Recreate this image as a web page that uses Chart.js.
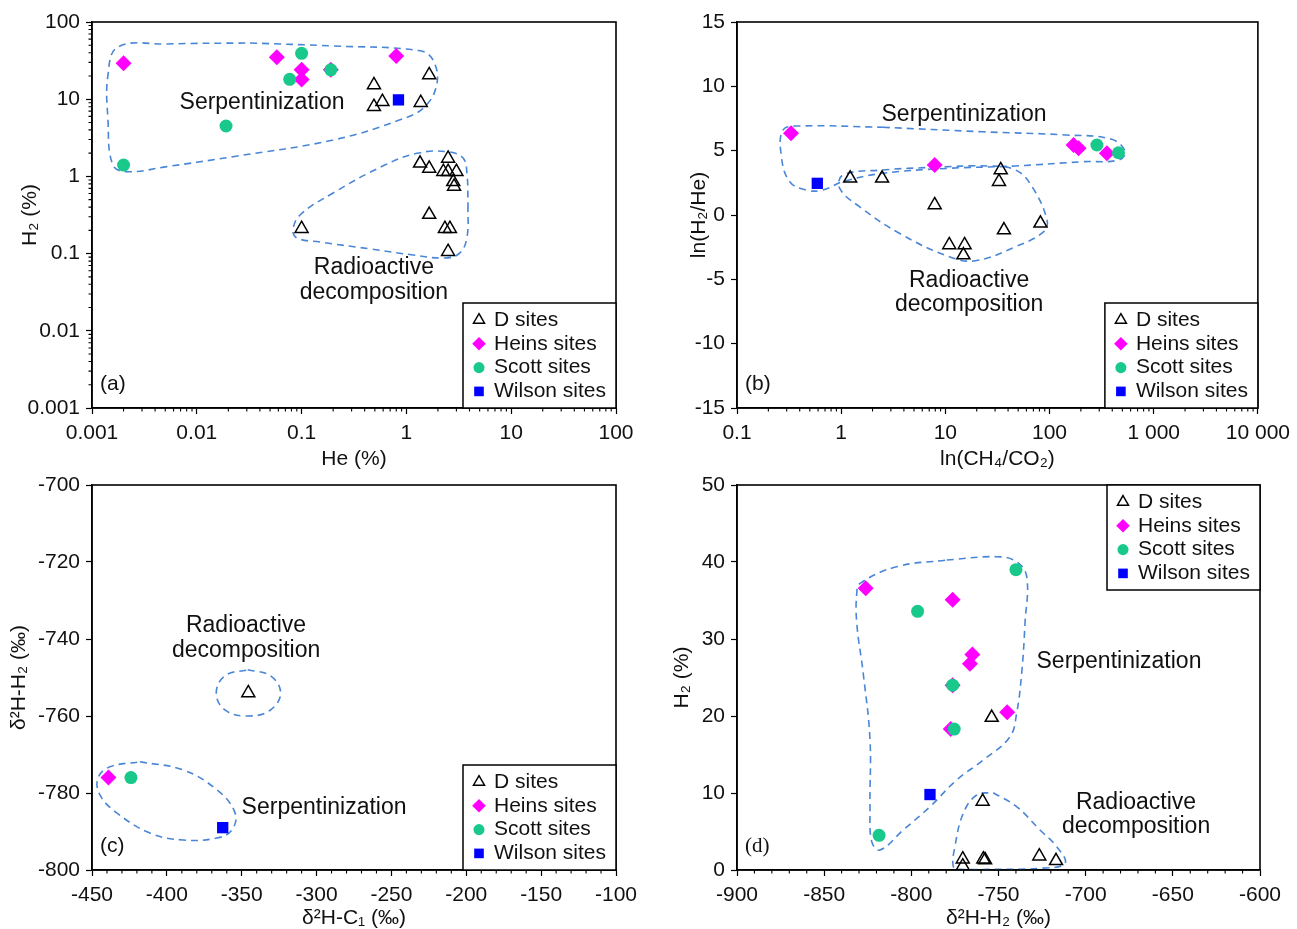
<!DOCTYPE html>
<html>
<head>
<meta charset="utf-8">
<title>H2 origin discrimination plots</title>
<script src="https://cdn.jsdelivr.net/npm/chart.js@4.4.1/dist/chart.umd.min.js"></script>
<style>
  html, body { margin: 0; padding: 0; background: #fff; overflow: hidden; }
  #wrap { position: relative; width: 1297px; height: 929px; }
  canvas { position: absolute; }
</style>
</head>
<body>
<div id="wrap">
  <canvas id="chartA" width="648" height="470" style="left:0;top:0"></canvas>
  <canvas id="chartB" width="649" height="470" style="left:648px;top:0"></canvas>
  <canvas id="chartC" width="648" height="464" style="left:0;top:465px"></canvas>
  <canvas id="chartD" width="649" height="464" style="left:648px;top:465px"></canvas>
</div>
<script>
// ---------- panel (a): He (%) vs H2 (%) ----------
const aXTicks = [0.001, 0.01, 0.1, 1, 10, 100];
const aXLabels = ["0.001", "0.01", "0.1", "1", "10", "100"];
const aYTicks = [0.001, 0.01, 0.1, 1, 10, 100];
const aYLabels = ["0.001", "0.01", "0.1", "1", "10", "100"];

const aD_He = [0.49, 0.59, 0.49, 1.65, 1.37, 1.35, 1.65, 2.5, 2.25, 2.5, 3.0, 2.8, 2.85, 1.65, 2.33, 2.6, 2.5, 0.1];
const aD_H2 = [15.3, 9.3, 8.0, 20.6, 9.0, 1.48, 1.27, 1.71, 1.15, 1.15, 1.15, 0.85, 0.74, 0.32, 0.21, 0.21, 0.106, 0.21];
const aHeins_He = [0.002, 0.058, 0.1, 0.1, 0.19, 0.8];
const aHeins_H2 = [29.2, 35, 24, 18, 24, 36.3];
const aScott_He = [0.1, 0.077, 0.19, 0.019, 0.002];
const aScott_H2 = [39.3, 18.1, 24, 4.5, 1.4];
const aWilson_He = [0.84];
const aWilson_H2 = [9.8];

// enclosures (dashed)
const aSerp_He = [0.0322, 0.2, 1.35, 1.79, 1.96, 1.5, 0.87, 0.2, 0.0221, 0.0052, 0.00216, 0.00158, 0.00142, 0.00142, 0.00177, 0.0052, 0.0322];
const aSerp_H2 = [53.5, 48.9, 42.5, 32.2, 16.2, 8.0, 5.4, 2.96, 1.8, 1.34, 1.15, 1.41, 5.4, 20.6, 47.5, 51.9, 53.5];
const aRad_He = [3.87, 3.79, 3.24, 2.34, 1.16, 0.45, 0.15, 0.0904, 0.0828, 0.0966, 0.2, 0.6, 1.26, 2.44, 3.47, 3.79, 3.87];
const aRad_H2 = [0.426, 0.164, 0.102, 0.0877, 0.096, 0.115, 0.141, 0.159, 0.202, 0.316, 0.61, 1.37, 1.99, 2.09, 1.73, 1.04, 0.426];

// ---------- panel (b): CH4/CO2 vs ln(H2/He) ----------
const bXTicks = [0.1, 1, 10, 100, 1000, 10000];
const bXLabels = ["0.1", "1", "10", "100", "1 000", "10 000"];
const bYTicks = [-15, -10, -5, 0, 5, 10, 15];
const bYLabels = ["-15", "-10", "-5", "0", "5", "10", "15"];

const bD_X = [1.22, 2.47, 7.9, 34, 32.7, 36.5, 81.8, 10.9, 15.3, 14.9];
const bD_Y = [2.85, 2.85, 0.78, 3.5, 2.59, -1.17, -0.65, -2.33, -2.33, -3.11];
const bHeins_X = [0.33, 7.9, 170, 190, 355];
const bHeins_Y = [6.35, 3.89, 5.44, 5.18, 4.8];
const bScott_X = [285, 459];
const bScott_Y = [5.44, 4.84];
const bWilson_X = [0.59];
const bWilson_Y = [2.46];

const bSerp_X = [2.5, 22.6, 142, 396, 532, 459, 205, 47.2, 10.9, 2.5, 1.04, 0.668, 0.463, 0.321, 0.267, 0.277, 0.4, 2.5];
const bSerp_Y = [6.82, 6.47, 6.22, 5.88, 4.92, 4.27, 4.14, 3.81, 3.63, 3.24, 2.59, 1.94, 1.94, 2.59, 4.53, 6.61, 6.92, 6.82];
const bRad_X = [7.53, 26.2, 47.2, 68, 94.6, 88, 47.2, 19.6, 10.9, 3.62, 1.5, 0.966, 1.04, 2.5, 7.53];
const bRad_Y = [3.71, 3.81, 3.5, 2.2, -0.39, -1.3, -2.46, -3.55, -3.24, -1.42, 0.645, 2.08, 3.11, 3.5, 3.71];

// ---------- panel (c): d2H-C1 vs d2H-H2 ----------
const cXTicks = [-450, -400, -350, -300, -250, -200, -150, -100];
const cXLabels = ["-450", "-400", "-350", "-300", "-250", "-200", "-150", "-100"];
const cYTicks = [-800, -780, -760, -740, -720, -700];
const cYLabels = ["-800", "-780", "-760", "-740", "-720", "-700"];

const cD_X = [-345.6];
const cD_Y = [-754];
const cHeins_X = [-439];
const cHeins_Y = [-776];
const cScott_X = [-424];
const cScott_Y = [-776];
const cWilson_X = [-362.7];
const cWilson_Y = [-789];

const cRad_X = [-346, -331, -324, -331, -346, -361, -367, -361, -346];
const cRad_Y = [-748, -749.5, -754, -758.5, -760, -758.5, -754, -749.5, -748];
const cSerp_X = [-418, -389.2, -366.5, -354.5, -356.5, -366.5, -389.2, -411.3, -433.3, -444.7, -446, -438, -418];
const cSerp_Y = [-771.9, -774, -779.2, -785.1, -789.6, -791.7, -792.2, -790.4, -785.2, -780.5, -776.1, -773.2, -771.9];

// ---------- panel (d): d2H-H2 vs H2 (%) ----------
const dXTicks = [-900, -850, -800, -750, -700, -650, -600];
const dXLabels = ["-900", "-850", "-800", "-750", "-700", "-650", "-600"];
const dYTicks = [0, 10, 20, 30, 40, 50];
const dYLabels = ["0", "10", "20", "30", "40", "50"];

const dD_X = [-753.9, -759.1, -770.5, -770.5, -758.7, -757.7, -726.6, -717];
const dD_Y = [19.8, 8.9, 1.4, 0.5, 1.4, 1.3, 1.8, 1.2];
const dHeins_X = [-826.2, -776.3, -765, -766.4, -776.3, -745, -777.4];
const dHeins_Y = [36.6, 35.1, 28, 26.8, 24, 20.5, 18.3];
const dScott_X = [-740, -796.4, -776.3, -775.4, -818.5];
const dScott_Y = [39, 33.6, 24, 18.3, 4.5];
const dWilson_X = [-789.3];
const dWilson_Y = [9.8];

const dSerp_X = [-779.7, -751, -739.6, -733.8, -734.8, -736.7, -739.6, -743.4, -758.7, -774, -789.3, -804.6, -818, -822.7, -823.7, -823.7, -827.6, -831.3, -831.3, -829.4, -808.4, -779.7];
const dSerp_Y = [40.26, 40.69, 40.04, 38.09, 32.04, 25.55, 20.35, 17.32, 14.29, 11.69, 8.22, 5.2, 2.6, 3.68, 8.22, 16.88, 25.55, 32.04, 35.94, 37.23, 39.39, 40.26];
const dRad_X = [-753, -739.6, -726.2, -716.6, -711.9, -726.2, -754.9, -772.1, -775.9, -775, -770.2, -762.5, -753];
const dRad_Y = [10.04, 8.22, 5.2, 3.03, 0.87, 0.22, 0.09, 0.09, 0.43, 3.03, 7.36, 9.74, 10.04];

const legendOrder = ["D sites", "Heins sites", "Scott sites", "Wilson sites"];

// ---------- styling ----------
const FONT = '"Liberation Sans", Arial, sans-serif';
const TEXT = "#111";
Chart.defaults.font.family = FONT;
Chart.defaults.color = TEXT;

const SERIES = {
  "D sites":      { pointStyle: "triangle", pointRadius: 7.5, pointBackgroundColor: "rgba(0,0,0,0)", pointBorderColor: "#000", pointBorderWidth: 1.5 },
  "Heins sites":  { pointStyle: "rectRot",  pointRadius: 8,   pointBackgroundColor: "#ff00ff", pointBorderColor: "#ff00ff", pointBorderWidth: 0 },
  "Scott sites":  { pointStyle: "circle",   pointRadius: 6.5, pointBackgroundColor: "#18c98b", pointBorderColor: "#18c98b", pointBorderWidth: 0 },
  "Wilson sites": { pointStyle: "rect",     pointRadius: 8,   pointBackgroundColor: "#0000ff", pointBorderColor: "#0000ff", pointBorderWidth: 0 }
};

const pts = (xs, ys) => xs.map((x, i) => ({ x: x, y: ys[i] }));

function scatterSet(label, xs, ys) {
  return Object.assign({ label: label, data: pts(xs, ys) }, SERIES[label]);
}

function outlineSet(xs, ys) {
  return {
    label: "",
    data: pts(xs, ys),
    showLine: true,
    pointRadius: 0,
    borderColor: "#4a86d6",
    borderWidth: 1.6,
    borderDash: [7, 5],
    tension: 0.4,
    fill: false
  };
}

function logMinor(lo, hi) {
  const out = [];
  for (let e = lo; e < hi; e++) {
    for (let m = 2; m <= 9; m++) out.push(m * Math.pow(10, e));
  }
  return out;
}

function stepMinor(lo, hi, step, major) {
  const out = [];
  for (let v = lo; v <= hi; v += step) {
    if (v % major !== 0) out.push(v);
  }
  return out;
}

function axis(o) {
  const horiz = o.horizontal;
  return {
    type: o.type,
    min: o.min,
    max: o.max,
    position: horiz ? "bottom" : "left",
    afterBuildTicks: s => { s.ticks = o.ticks.map(v => ({ value: v })); },
    afterFit: s => { if (horiz) s.height = o.size; else s.width = o.size; },
    ticks: {
      callback: (v, i) => o.labels[i],
      autoSkip: false,
      maxRotation: 0,
      minRotation: 0,
      padding: horiz ? 7 : 6,
      color: TEXT,
      font: { size: 21 }
    },
    grid: { drawOnChartArea: false, drawTicks: true, tickLength: 6, tickColor: "#000", tickWidth: 1.2 },
    border: { display: true, color: "#000", width: 1.5 },
    title: {
      display: true,
      text: o.title,
      color: TEXT,
      font: { size: 21, lineHeight: 1 },
      padding: horiz ? { top: 0, bottom: 0 } : { top: o.titlePad, bottom: 0 }
    }
  };
}

// frame, minor ticks, notes, panel letter and boxed legend
const panelDecor = {
  id: "panelDecor",
  afterDatasetsDraw(chart, args, opts) {
    const { ctx, chartArea: ca } = chart;
    const x = chart.scales.x, y = chart.scales.y;
    ctx.save();

    ctx.strokeStyle = "#000";
    ctx.lineWidth = 1.1;
    ctx.beginPath();
    (opts.minorX || []).forEach(v => {
      const px = x.getPixelForValue(v);
      ctx.moveTo(px, ca.bottom); ctx.lineTo(px, ca.bottom + 3.5);
    });
    (opts.minorY || []).forEach(v => {
      const py = y.getPixelForValue(v);
      ctx.moveTo(ca.left, py); ctx.lineTo(ca.left - 3.5, py);
    });
    ctx.stroke();

    ctx.lineWidth = 1.6;
    ctx.strokeRect(ca.left, ca.top, ca.right - ca.left, ca.bottom - ca.top);

    ctx.fillStyle = TEXT;
    ctx.textAlign = "center";
    ctx.textBaseline = "middle";
    ctx.font = "23px " + FONT;
    (opts.notes || []).forEach(n => {
      ctx.fillText(n.text, x.getPixelForValue(n.x), y.getPixelForValue(n.y));
    });

    ctx.textAlign = "left";
    ctx.font = "21px " + (opts.letterFont || FONT);
    ctx.fillText(opts.letter, ca.left + 8, ca.bottom - 24);

    // legend box
    const bw = 153, bh = 105;
    const bx = ca.right - bw;
    const by = opts.legendAt === "top" ? ca.top : ca.bottom - bh;
    ctx.fillStyle = "#fff";
    ctx.fillRect(bx, by, bw, bh);
    ctx.strokeStyle = "#000";
    ctx.lineWidth = 1.5;
    ctx.strokeRect(bx, by, bw, bh);
    legendOrder.forEach((name, i) => {
      const ds = chart.data.datasets.find(d => d.label === name);
      const cy = by + 17 + i * 23.8;
      ctx.fillStyle = ds.pointBackgroundColor;
      ctx.strokeStyle = ds.pointBorderColor;
      ctx.lineWidth = ds.pointBorderWidth;
      Chart.helpers.drawPoint(ctx, {
        pointStyle: ds.pointStyle,
        radius: ds.pointRadius * 0.85,
        borderWidth: ds.pointBorderWidth,
        rotation: 0
      }, bx + 16, cy);
      ctx.fillStyle = TEXT;
      ctx.font = "21px " + FONT;
      ctx.textAlign = "left";
      ctx.textBaseline = "middle";
      ctx.fillText(name, bx + 31, cy);
    });

    ctx.restore();
  }
};

function makeChart(id, cfg) {
  return new Chart(document.getElementById(id), {
    type: "scatter",
    data: { datasets: cfg.datasets },
    options: {
      responsive: false,
      animation: false,
      events: [],
      layout: { padding: cfg.padding },
      plugins: {
        legend: { display: false },
        tooltip: { enabled: false },
        panelDecor: cfg.decor
      },
      scales: { x: cfg.x, y: cfg.y }
    },
    plugins: [panelDecor]
  });
}

// (a)
makeChart("chartA", {
  datasets: [
    scatterSet("D sites", aD_He, aD_H2),
    scatterSet("Wilson sites", aWilson_He, aWilson_H2),
    scatterSet("Scott sites", aScott_He, aScott_H2),
    scatterSet("Heins sites", aHeins_He, aHeins_H2),
    outlineSet(aSerp_He, aSerp_H2),
    outlineSet(aRad_He, aRad_H2)
  ],
  padding: { top: 22, right: 32, left: 0, bottom: 0 },
  x: axis({ horizontal: true, type: "logarithmic", min: 0.001, max: 100, ticks: aXTicks, labels: aXLabels, title: "He (%)", size: 62 }),
  y: axis({ horizontal: false, type: "logarithmic", min: 0.001, max: 100, ticks: aYTicks, labels: aYLabels, title: "H\u2082 (%)", titlePad: 20, size: 92 }),
  decor: {
    letter: "(a)",
    legendAt: "bottom",
    minorX: logMinor(-3, 2),
    minorY: logMinor(-3, 2),
    notes: [
      { text: "Serpentinization", x: 0.0419, y: 8.93 },
      { text: "Radioactive", x: 0.49, y: 0.065 },
      { text: "decomposition", x: 0.49, y: 0.031 }
    ]
  }
});

// (b)
makeChart("chartB", {
  datasets: [
    scatterSet("D sites", bD_X, bD_Y),
    scatterSet("Wilson sites", bWilson_X, bWilson_Y),
    scatterSet("Scott sites", bScott_X, bScott_Y),
    scatterSet("Heins sites", bHeins_X, bHeins_Y),
    outlineSet(bSerp_X, bSerp_Y),
    outlineSet(bRad_X, bRad_Y)
  ],
  padding: { top: 22, right: 37, left: 0, bottom: 0 },
  x: axis({ horizontal: true, type: "logarithmic", min: 0.1, max: 10000, ticks: bXTicks, labels: bXLabels, title: "ln(CH\u2084/CO\u2082)", size: 62 }),
  y: axis({ horizontal: false, type: "linear", min: -15, max: 15, ticks: bYTicks, labels: bYLabels, title: "ln(H\u2082/He)", titlePad: 41, size: 89 }),
  decor: {
    letter: "(b)",
    legendAt: "bottom",
    minorX: logMinor(-1, 4),
    notes: [
      { text: "Serpentinization", x: 15.1, y: 7.77 },
      { text: "Radioactive", x: 16.9, y: -5.13 },
      { text: "decomposition", x: 16.9, y: -7.0 }
    ]
  }
});

// (c)
makeChart("chartC", {
  datasets: [
    scatterSet("D sites", cD_X, cD_Y),
    scatterSet("Wilson sites", cWilson_X, cWilson_Y),
    scatterSet("Scott sites", cScott_X, cScott_Y),
    scatterSet("Heins sites", cHeins_X, cHeins_Y),
    outlineSet(cSerp_X, cSerp_Y),
    outlineSet(cRad_X, cRad_Y)
  ],
  padding: { top: 20, right: 32, left: 0, bottom: 0 },
  x: axis({ horizontal: true, type: "linear", min: -450, max: -100, ticks: cXTicks, labels: cXLabels, title: "\u03b4\u00b2H-C\u2081 (\u2030)", size: 59 }),
  y: axis({ horizontal: false, type: "linear", min: -800, max: -700, ticks: cYTicks, labels: cYLabels, title: "\u03b4\u00b2H-H\u2082 (\u2030)", titlePad: 9, size: 92 }),
  decor: {
    letter: "(c)",
    legendAt: "bottom",
    minorX: stepMinor(-450, -100, 10, 50),
    notes: [
      { text: "Radioactive", x: -347.1, y: -736.6 },
      { text: "decomposition", x: -347.1, y: -742.9 },
      { text: "Serpentinization", x: -295, y: -783.9 }
    ]
  }
});

// (d)
makeChart("chartD", {
  datasets: [
    scatterSet("D sites", dD_X, dD_Y),
    scatterSet("Wilson sites", dWilson_X, dWilson_Y),
    scatterSet("Scott sites", dScott_X, dScott_Y),
    scatterSet("Heins sites", dHeins_X, dHeins_Y),
    outlineSet(dSerp_X, dSerp_Y),
    outlineSet(dRad_X, dRad_Y)
  ],
  padding: { top: 20, right: 37, left: 0, bottom: 0 },
  x: axis({ horizontal: true, type: "linear", min: -900, max: -600, ticks: dXTicks, labels: dXLabels, title: "\u03b4\u00b2H-H\u2082 (\u2030)", size: 59 }),
  y: axis({ horizontal: false, type: "linear", min: 0, max: 50, ticks: dYTicks, labels: dYLabels, title: "H\u2082 (%)", titlePad: 24, size: 89 }),
  decor: {
    letter: "(d)",
    letterFont: '"Liberation Serif", "Times New Roman", serif',
    legendAt: "top",
    minorX: stepMinor(-900, -600, 10, 50),
    notes: [
      { text: "Serpentinization", x: -680.9, y: 27.1 },
      { text: "Radioactive", x: -671.1, y: 8.7 },
      { text: "decomposition", x: -671.1, y: 5.6 }
    ]
  }
});
</script>
</body>
</html>
